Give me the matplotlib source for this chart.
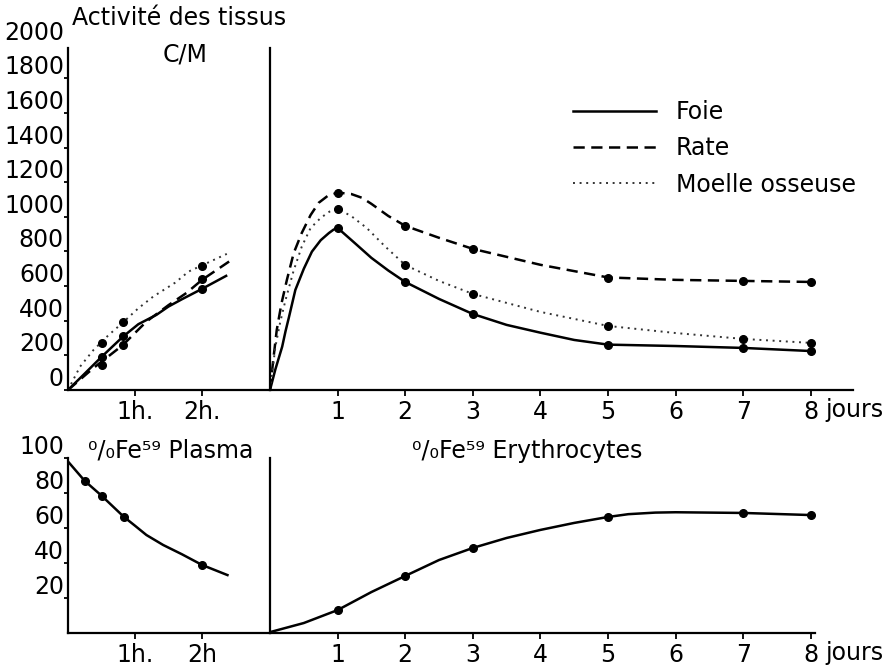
import matplotlib
matplotlib.use("Agg")
import matplotlib.pyplot as plt
from matplotlib.transforms import offset_copy

plt.rcParams["font.family"] = ["DejaVu Sans"]

# ---- top left: tissue activity (C/M) during the first hours ----
hours_pts = [0.5, 0.82, 2.0]
foie_h_pts = [191, 312, 584]
rate_h_pts = [145, 260, 642]
moelle_h_pts = [272, 393, 717]

foie_h_t = [0, 0.25, 0.5, 0.82, 1.05, 1.32, 1.50, 1.70, 2.0, 2.36]
foie_h = [0, 95, 191, 308, 380, 434, 482, 524, 584, 659]
rate_h_t = [0, 0.38, 0.82, 1.17, 1.50, 1.77, 2.0, 2.42]
rate_h = [0, 127, 260, 395, 490, 561, 636, 746]
moelle_h_t = [0, 0.18, 0.38, 0.60, 0.82, 1.05, 1.27, 1.60, 1.80, 2.37]
moelle_h = [0, 135, 231, 315, 390, 472, 539, 620, 684, 786]

# ---- top right: tissue activity over days ----
days_pts = [1, 2, 3, 5, 7, 8]
foie_d_pts = [936, 624, 439, 260, 243, 225]
rate_d_pts = [1140, 948, 815, 647, 630, 624]
moelle_d_pts = [1046, 722, 555, 370, 295, 272]

foie_d_t = [0, 0.04, 0.08, 0.13, 0.18, 0.23, 0.28, 0.375, 0.5, 0.62, 0.75,
            0.87, 0.94, 1.0, 1.25, 1.5, 1.75, 2, 2.5, 3, 3.5, 4, 4.5, 5, 6, 7, 8]
foie_d = [0, 60, 120, 185, 250, 340, 420, 578, 700, 799, 865,
          906, 926, 936, 850, 763, 690, 624, 526, 439, 376, 331, 289, 262,
          254, 243, 225]
rate_d_t = [0, 0.05, 0.10, 0.17, 0.25, 0.35, 0.47, 0.6, 0.72, 0.85, 1.0, 1.2,
            1.36, 1.5, 1.75, 2, 2.5, 3, 4, 5, 6, 7, 8]
rate_d = [0, 180, 347, 500, 636, 790, 907, 1010, 1081, 1120, 1140, 1132,
          1110, 1075, 1005, 948, 879, 815, 723, 650, 636, 630, 624]
moelle_d_t = [0, 0.08, 0.15, 0.23, 0.35, 0.47, 0.6, 0.75, 0.88, 1.0, 1.2,
              1.43, 1.7, 2, 2.5, 3, 4, 5, 6, 7, 8]
moelle_d = [0, 250, 390, 520, 690, 828, 935, 994, 1030, 1046, 1005,
            936, 830, 722, 630, 555, 451, 370, 329, 295, 272]

# ---- bottom: % Fe59 in plasma (hours) and erythrocytes (days) ----
plasma_pts_t = [0.25, 0.5, 0.83, 2.0]
plasma_pts = [86.9, 78.5, 66.5, 38.9]
plasma_t = [0, 0.25, 0.5, 0.83, 1.0, 1.17, 1.42, 1.7, 2.0, 2.38]
plasma = [98, 86.9, 78.5, 66.5, 61.3, 56, 50.3, 45, 38.9, 33.1]

ery_pts = [13.1, 32.6, 48.6, 66.3, 68.6, 67.4]
ery_t = [0, 0.5, 1, 1.5, 2, 2.5, 3, 3.5, 4, 4.5, 5, 5.3, 5.7, 6, 7, 8]
ery = [0.5, 5.7, 13.1, 23.4, 32.6, 41.7, 48.6, 54.3, 58.9, 62.9, 66.3,
       67.9, 68.8, 69, 68.6, 67.4]

act_ticks = [0, 200, 400, 600, 800, 1000, 1200, 1400, 1600, 1800, 2000]
pct_ticks = [20, 40, 60, 80, 100]
day_ticks = [1, 2, 3, 4, 5, 6, 7, 8]

W, H = 896, 668
FS = 17
fig = plt.figure(figsize=(W / 100, H / 100), dpi=100)


def px_axes(x0, x1, ytop, ybot):
    return fig.add_axes([x0 / W, (H - ybot) / H, (x1 - x0) / W, (ybot - ytop) / H])


PX_H = 67.0    # pixels per hour
PX_D = 67.6    # pixels per day
ax_tl = px_axes(68, 270, 48, 390)
ax_tr = px_axes(270, 853, 48, 390)
ax_bl = px_axes(68, 270, 458, 633)
ax_br = px_axes(270, 815, 458, 633)

ax_tl.set_xlim(0, 202 / PX_H)
ax_bl.set_xlim(0, 202 / PX_H)
ax_tr.set_xlim(0, 583 / PX_D)
ax_br.set_xlim(0, 545 / PX_D)
for ax in (ax_tl, ax_tr):
    ax.set_ylim(0, 1975)
for ax in (ax_bl, ax_br):
    ax.set_ylim(0, 100)

for ax in (ax_tl, ax_tr, ax_bl, ax_br):
    for s in ("top", "right"):
        ax.spines[s].set_visible(False)
    for s in ("left", "bottom"):
        ax.spines[s].set_linewidth(1.6)
    ax.patch.set_alpha(0)
    ax.tick_params(axis="x", direction="out", length=4, width=1.3, pad=3,
                   labelsize=FS)
    ax.tick_params(axis="y", direction="out", length=3, width=1.3)

dash = (0, (4.5, 2.6))
dot = (0, (1, 2.4))
lw = 1.8
ms = 5.5

# top left
ax_tl.plot(foie_h_t, foie_h, color="black", lw=lw)
ax_tl.plot(rate_h_t, rate_h, color="black", lw=lw, ls=dash)
ax_tl.plot(moelle_h_t, moelle_h, color="#333333", lw=1.4, ls=dot)
for vals in (foie_h_pts, rate_h_pts, moelle_h_pts):
    ax_tl.plot(hours_pts, vals, "o", color="black", ms=ms)

# top right
l1, = ax_tr.plot(foie_d_t, foie_d, color="black", lw=lw, label="Foie")
l2, = ax_tr.plot(rate_d_t, rate_d, color="black", lw=lw, ls=dash, label="Rate")
l3, = ax_tr.plot(moelle_d_t, moelle_d, color="#333333", lw=1.4, ls=dot,
                 label="Moelle osseuse")
for vals in (foie_d_pts, rate_d_pts, moelle_d_pts):
    ax_tr.plot(days_pts, vals, "o", color="black", ms=ms)

# bottom
ax_bl.plot(plasma_t, plasma, color="black", lw=lw)
ax_bl.plot(plasma_pts_t, plasma_pts, "o", color="black", ms=ms)
ax_br.plot(ery_t, ery, color="black", lw=lw)
ax_br.plot(days_pts, ery_pts, "o", color="black", ms=ms)

# x ticks
ax_tl.set_xticks([1, 2], ["1h.", "2h."])
ax_bl.set_xticks([1, 2], ["1h.", "2h"])
ax_tr.set_xticks(day_ticks, [str(d) for d in day_ticks])
ax_br.set_xticks(day_ticks, [str(d) for d in day_ticks])

# y ticks: labels sit a little above their tick marks, as in the original
for ax, ticks, top in ((ax_tl, act_ticks, 1975), (ax_bl, pct_ticks, 100)):
    ax.set_yticks([t for t in ticks if t <= top], [])
    tr = offset_copy(ax.get_yaxis_transform(), fig=fig, x=-4, y=11, units="dots")
    for t in ticks:
        ax.text(0, t, str(t), transform=tr, ha="right", va="center", fontsize=FS)
for ax in (ax_tr, ax_br):
    ax.set_yticks([])

# "jours" after the last day tick, on the digits' baseline
for ax in (ax_tr, ax_br):
    tr = offset_copy(ax.get_xaxis_transform(), fig=fig, x=0, y=-27, units="dots")
    ax.text(555 / PX_D, 0, "jours", transform=tr, ha="left", va="baseline",
            fontsize=FS)

fig.text(72 / W, 1 - 18 / H, "Activité des tissus", ha="left", va="center",
         fontsize=FS)
fig.text(185 / W, 1 - 55 / H, "C/M", ha="center", va="center", fontsize=FS)
fig.text(88 / W, 1 - 451 / H, "⁰/₀Fe⁵⁹ Plasma", ha="left", va="center",
         fontsize=FS)
fig.text(412 / W, 1 - 451 / H, "⁰/₀Fe⁵⁹ Erythrocytes", ha="left", va="center",
         fontsize=FS)

fig.legend(handles=[l1, l2, l3], loc="upper left",
           bbox_to_anchor=(573 / W, 1 - 100 / H), frameon=False,
           fontsize=FS, handlelength=3.5, handletextpad=0.85,
           labelspacing=0.52, borderpad=0, borderaxespad=0)

fig.savefig("out.png", dpi=100)
